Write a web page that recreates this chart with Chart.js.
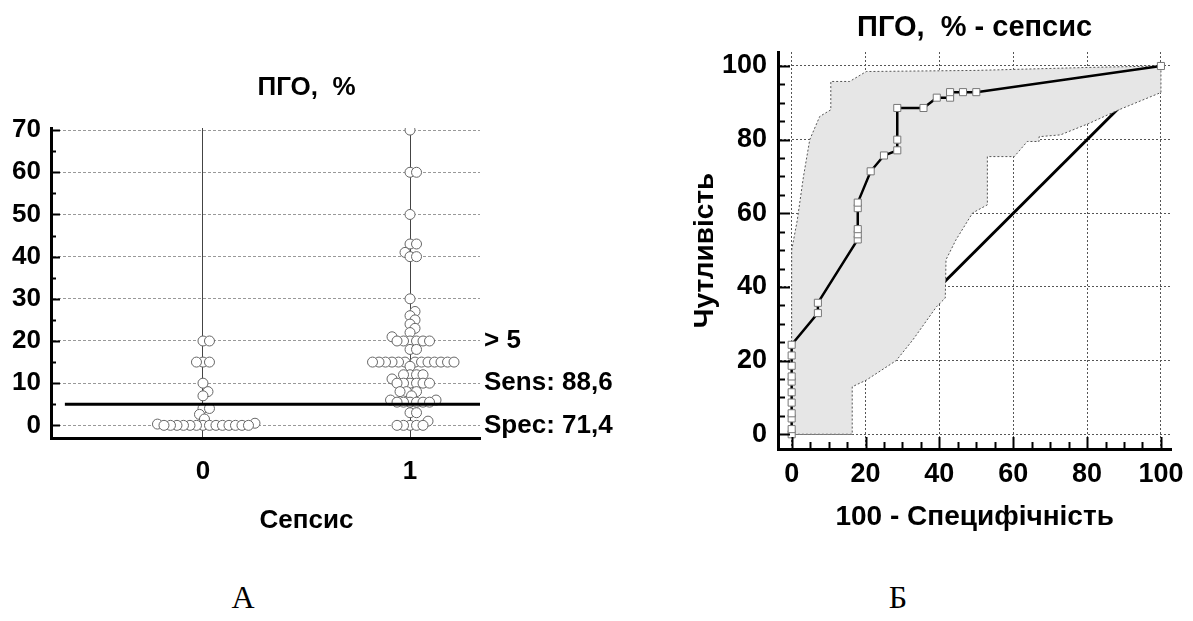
<!DOCTYPE html>
<html><head><meta charset="utf-8">
<script src="https://cdn.jsdelivr.net/npm/chart.js@4.4.1/dist/chart.umd.min.js"></script>
<style>
html,body{margin:0;padding:0;background:#fff;width:1193px;height:621px;overflow:hidden;}
#wl{position:absolute;left:0;top:0;width:640px;height:560px;}
#wr{position:absolute;left:640px;top:0;width:553px;height:560px;}
.cap{position:absolute;top:578px;line-height:38px;font-family:'Liberation Serif','Times New Roman',serif;font-size:32px;color:#000;transform:translateX(-50%);}
</style></head><body>
<div id="wl"><canvas id="cl"></canvas></div>
<div id="wr"><canvas id="cr"></canvas></div>
<div class="cap" style="left:243px">А</div>
<div class="cap" style="left:898px">Б</div>
<script>
// ---------- Panel А: dot plot ----------
const groupCategories = [0, 1];
const groupTickLabels = ['0', '1'];
const valuesNoSepsis = [20,20,15,15,15,10,8,7,4,4,2.6,1.5,0.5,0.3,0,0,0,0,0,0,0,0,0,0,0,0,0,0];
const valuesSepsis = [70,60,60,50,43,43,41,40,40,30,27,26,25,24,23,22,21,
  20,20,20,20,20,20,18,18,
  15,15,15,15,15,15,15,15,15,15,15,15,15,
  14,12,12,12,12,11,
  10,10,10,10,10,10,
  8,8,8,7,6,6,5.5,5.5,5.5,5.5,5.5,5.5,
  3,3,1,0,0,0,0,0];
const cutoffValue = 5;
const yTicksA = [0,10,20,30,40,50,60,70];
const titleA = 'ПГО,  %';
const xTitleA = 'Сепсис';
const annotationA = ['> 5', 'Sens: 88,6', 'Spec: 71,4'];
const annotationLevelsA = [20, 10, 0];

// ---------- Panel Б: ROC curve ----------
const rocFpr  = [0,0,0,0,0,0,0,0,0,0,0, 7.1,7.1, 17.9,17.9,17.9,17.9,17.9, 21.4, 25, 28.6,28.6,28.6, 35.7, 39.3, 42.9,42.9, 46.4, 50, 100];
const rocSens = [0,1.4,4.3,5.7,8.6,11.4,14.3,15.7,18.6,21.4,24.3, 32.9,35.7, 52.9,54.3,55.7,61.4,62.9, 71.4, 75.7, 77.1,80,88.6, 88.6, 91.4, 91.4,92.9, 92.9, 92.9, 100];
const bandUpperX = [0, 0, 1.5, 3.2, 4.9, 7.6, 10.6, 10.6, 15.7, 20.2, 50, 80, 100];
const bandUpperY = [0, 50, 58, 70, 80, 86.3, 88.1, 95.8, 95.8, 98.5, 98.8, 99.6, 100];
const bandLowerX = [100, 88.6, 80.5, 72.8, 67, 67, 63.8, 60.3, 53, 53, 49, 44.5, 41.8, 41.6, 39.2, 32.8, 28.3, 20.2, 16.4, 16.4, 0];
const bandLowerY = [92.8, 88.1, 84.4, 81.3, 80.8, 79.5, 79.5, 75.4, 75.4, 62.3, 60.1, 52.8, 47.4, 37, 34.6, 25.6, 20, 14.7, 12.9, 0, 0];
const diagonalX = [0, 100];
const diagonalY = [0, 100];
const rocTicks = [0,20,40,60,80,100];
const titleR = 'ПГО,  % - сепсис';
const xTitleR = '100 - Специфічність';
const yTitleR = 'Чутливість';

const FONT = "'Liberation Sans', Arial, sans-serif";
Chart.defaults.font.family = FONT;
Chart.defaults.color = '#000';

const innerTicks = {
  id: 'innerTicks',
  afterDraw(chart, args, o) {
    const ctx = chart.ctx, a = chart.chartArea;
    ctx.save(); ctx.strokeStyle = '#000'; ctx.lineWidth = 2;
    if (o.y) {
      const s = chart.scales.y;
      for (let v = o.y.from; v <= o.y.to + 1e-9; v += o.y.step) {
        const p = Math.round(s.getPixelForValue(v)) + 0.5;
        const len = (Math.abs(v % o.y.major) < 1e-9) ? o.y.long : o.y.short;
        ctx.beginPath(); ctx.moveTo(a.left, p); ctx.lineTo(a.left + len, p); ctx.stroke();
      }
    }
    if (o.x) {
      const s = chart.scales.x;
      for (let v = o.x.from; v <= o.x.to + 1e-9; v += o.x.step) {
        const p = Math.round(s.getPixelForValue(v)) + 0.5;
        const len = (Math.abs(v % o.x.major) < 1e-9) ? o.x.long : o.x.short;
        ctx.beginPath(); ctx.moveTo(p, a.bottom); ctx.lineTo(p, a.bottom - len); ctx.stroke();
      }
    }
    ctx.restore();
  }
};

const panelText = {
  id: 'panelText',
  afterDraw(chart, args, o) {
    const ctx = chart.ctx;
    (o.items || []).forEach(it => {
      const p = it.pos(chart);
      ctx.save();
      ctx.font = it.font; ctx.fillStyle = '#000';
      ctx.textAlign = it.align || 'center'; ctx.textBaseline = 'middle';
      ctx.fillText(it.text, p.x, p.y);
      ctx.restore();
    });
  }
};

// ---------- Chart А ----------
const fontA = 'bold 26px ' + FONT;
const chartA = new Chart(document.getElementById('cl'), {
  type: 'scatter',
  data: { datasets: [
    { label: 'cutoff', showLine: true, data: [{x: -0.667, y: cutoffValue}, {x: 1.338, y: cutoffValue}],
      borderColor: '#000', borderWidth: 3, pointRadius: 0, order: 0 },
    { label: '0', data: valuesNoSepsis.map(v => ({x: groupCategories[0], y: v})),
      pointStyle: 'circle', pointRadius: 5, pointBackgroundColor: '#fff', pointBorderColor: '#666', pointBorderWidth: 1, order: 1 },
    { label: '1', data: valuesSepsis.map(v => ({x: groupCategories[1], y: v})),
      pointStyle: 'circle', pointRadius: 5, pointBackgroundColor: '#fff', pointBorderColor: '#666', pointBorderWidth: 1, order: 1 }
  ]},
  options: {
    responsive: true, maintainAspectRatio: false, animation: false,
    layout: { padding: { top: 128, right: 160, left: 0, bottom: 0 } },
    plugins: {
      legend: { display: false }, tooltip: { enabled: false }, title: { display: false },
      innerTicks: { y: { from: 0, to: 70, step: 5, major: 10, long: 9, short: 5 } },
      panelText: { items: [
        { text: titleA, font: 'bold 26px ' + FONT, pos: c => ({x: (c.scales.x.getPixelForValue(0) + c.scales.x.getPixelForValue(1)) / 2, y: 88}) },
        { text: xTitleA, font: 'bold 26px ' + FONT, pos: c => ({x: (c.scales.x.getPixelForValue(0) + c.scales.x.getPixelForValue(1)) / 2, y: 521}) },
        ...annotationA.map((t, i) => ({ text: t, font: fontA, align: 'left',
          pos: c => ({x: c.chartArea.right + 4, y: c.scales.y.getPixelForValue(annotationLevelsA[i])}) }))
      ]}
    },
    scales: {
      x: { type: 'linear', min: -0.734, max: 1.338,
        afterBuildTicks: s => { s.ticks = groupCategories.map(v => ({value: v})); },
        afterFit: s => { s.height = 122; },
        grid: { color: '#444', lineWidth: 1, drawTicks: false },
        border: { color: '#000', width: 3 },
        ticks: { font: { size: 26, weight: 'bold' }, padding: 18, callback: (v) => groupTickLabels[groupCategories.indexOf(v)] }
      },
      y: { min: -3, max: 70.5,
        afterBuildTicks: s => { s.ticks = yTicksA.map(v => ({value: v})); },
        afterFit: s => { s.width = 51; },
        grid: { color: '#999', lineWidth: 1, drawTicks: false },
        border: { color: '#000', width: 3, dash: [3, 2] },
        ticks: { font: { size: 26, weight: 'bold' }, padding: 10 }
      }
    }
  },
  plugins: [innerTicks, panelText]
});

function swarmOffsets(values, yScale, minDist) {
  const order = values.map((v, i) => i).sort((a, b) => values[a] - values[b]);
  const placed = [];
  const off = new Array(values.length).fill(0);
  for (const i of order) {
    const py = yScale.getPixelForValue(values[i]);
    let chosen = 0;
    for (let k = 0; k < 600; k++) {
      const cands = k === 0 ? [0] : [k * 0.5, -k * 0.5];
      let ok = null;
      for (const c of cands) {
        if (placed.every(p => Math.hypot(p.x - c, p.y - py) >= minDist)) { ok = c; break; }
      }
      if (ok !== null) { chosen = ok; break; }
    }
    placed.push({x: chosen, y: py});
    off[i] = chosen;
  }
  return off;
}
(function applySwarm() {
  const xs = chartA.scales.x, ys = chartA.scales.y;
  const pxPerUnit = xs.getPixelForValue(1) - xs.getPixelForValue(0);
  [valuesNoSepsis, valuesSepsis].forEach((vals, gi) => {
    const off = swarmOffsets(vals, ys, 6.5);
    chartA.data.datasets[gi + 1].data = vals.map((v, i) => ({x: groupCategories[gi] + off[i] / pxPerUnit, y: v}));
  });
  chartA.update('none');
})();

// ---------- Chart Б ----------
const bandPoints = bandUpperX.map((x, i) => ({x, y: bandUpperY[i]}))
  .concat(bandLowerX.map((x, i) => ({x, y: bandLowerY[i]})));
const chartR = new Chart(document.getElementById('cr'), {
  type: 'scatter',
  data: { datasets: [
    { label: 'diag', showLine: true, data: diagonalX.map((x, i) => ({x, y: diagonalY[i]})),
      borderColor: '#000', borderWidth: 3, pointRadius: 0, order: 3 },
    { label: 'band', showLine: true, data: bandPoints, fill: 'shape', backgroundColor: '#e6e6e6',
      borderColor: '#555', borderWidth: 1, borderDash: [2, 2], pointRadius: 0, order: 2 },
    { label: 'roc', showLine: true, data: rocFpr.map((x, i) => ({x, y: rocSens[i]})),
      borderColor: '#000', borderWidth: 2.5, pointStyle: 'rect', pointRadius: 5,
      pointBackgroundColor: '#fff', pointBorderColor: '#777', pointBorderWidth: 1, order: 1 }
  ]},
  options: {
    responsive: true, maintainAspectRatio: false, animation: false,
    layout: { padding: { top: 52, right: 21, left: 0, bottom: 0 } },
    plugins: {
      legend: { display: false }, tooltip: { enabled: false }, title: { display: false },
      innerTicks: {
        y: { from: 0, to: 100, step: 5, major: 20, long: 12, short: 7 },
        x: { from: 0, to: 100, step: 5, major: 20, long: 12, short: 7 }
      },
      panelText: { items: [
        { text: titleR, font: 'bold 29px ' + FONT, pos: c => ({x: (c.chartArea.left + c.chartArea.right) / 2, y: 28}) }
      ]}
    },
    scales: {
      x: { type: 'linear', min: -3.7, max: 102.8,
        afterBuildTicks: s => { s.ticks = rocTicks.map(v => ({value: v})); },
        afterFit: s => { s.height = 111; },
        grid: { color: '#555', lineWidth: 1, drawTicks: false },
        border: { color: '#000', width: 3, dash: [2, 2] },
        ticks: { font: { size: 27, weight: 'bold' }, padding: 9 },
        title: { display: true, text: xTitleR, font: { size: 28, weight: 'bold' }, padding: { top: 2, bottom: 26 } }
      },
      y: { min: -4, max: 103.8,
        afterBuildTicks: s => { s.ticks = rocTicks.map(v => ({value: v})); },
        afterFit: s => { s.width = 138; },
        grid: { color: '#555', lineWidth: 1, drawTicks: false },
        border: { color: '#000', width: 3, dash: [2, 2] },
        ticks: { font: { size: 27, weight: 'bold' }, padding: 11 },
        title: { display: true, text: yTitleR, font: { size: 28, weight: 'bold' }, padding: { top: 48, bottom: 0 } }
      }
    }
  },
  plugins: [innerTicks, panelText]
});
</script>
</body></html>
